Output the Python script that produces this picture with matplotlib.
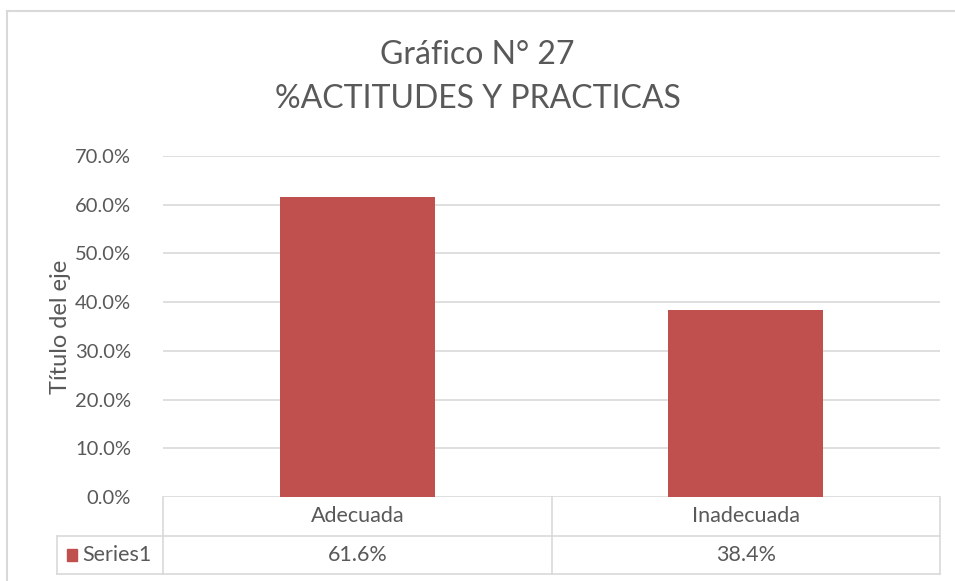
import matplotlib
matplotlib.use("Agg")
from matplotlib import pyplot as plt
from matplotlib.lines import Line2D
from matplotlib.patches import Rectangle

# datos del grafico
categorias = ["Adecuada", "Inadecuada"]
valores = [0.616, 0.384]
serie = "Series1"
titulo = "Gráfico N° 27\n%ACTITUDES Y PRACTICAS"
eje_y = "Título del eje"

W, H = 955, 581
gris = "#595959"
linea = "#d9d9d9"
rojo = "#C0504D"
plt.rcParams['font.family'] = ['Lato', 'DejaVu Sans']

fig = plt.figure(figsize=(W / 100, H / 100), dpi=100)

def fx(px):
    return px / W

def fy(py):
    return 1 - py / H

# borde del grafico
fig.add_artist(Line2D([fx(7), 1], [fy(11), fy(11)], color=linea, lw=1.5))
fig.add_artist(Line2D([fx(7), fx(7)], [fy(11), 0], color=linea, lw=1.5))

x0, x1, ytop, ybot = 163, 940, 156, 497
ax = fig.add_axes([fx(x0), fy(ybot), fx(x1 - x0), fy(ytop) - fy(ybot)])
pos = list(range(len(categorias)))
ax.bar(pos, valores, width=0.4, color=rojo, zorder=3)
ax.set_xlim(-0.5, len(categorias) - 0.5)
ax.set_ylim(0, 0.7)
ax.set_yticks([i / 10 for i in range(8)])
ax.set_yticklabels(["%.1f%%" % (i * 10) for i in range(8)], color=gris, fontsize=14.5)
ax.tick_params(axis="y", length=0, pad=23)
ax.set_xticks([])
ax.grid(axis="y", color=linea, lw=1.2, zorder=0)
for s in ax.spines.values():
    s.set_visible(False)
ax.set_ylabel(eje_y, color=gris, fontsize=17, va="center")
ax.yaxis.set_label_coords((60 - x0) / (x1 - x0), 0.5)

fig.text(0.5, fy(77), titulo, ha="center", va="center", fontsize=23,
         color=gris, linespacing=1.6)

# tabla de datos
ymid, yend, xleft = 536, 574, 57
ancho = (x1 - x0) / len(categorias)
for i in range(len(categorias) + 1):
    xv = x0 + i * ancho
    fig.add_artist(Line2D([fx(xv), fx(xv)], [fy(ybot), fy(yend)], color=linea, lw=1.2))
fig.add_artist(Line2D([fx(xleft), fx(xleft)], [fy(ymid), fy(yend)], color=linea, lw=1.2))
for yh in (ymid, yend):
    fig.add_artist(Line2D([fx(xleft), fx(x1)], [fy(yh), fy(yh)], color=linea, lw=1.2))

for i, (c, v) in enumerate(zip(categorias, valores)):
    xc = x0 + (i + 0.5) * ancho
    fig.text(fx(xc), fy((ybot + ymid) / 2), c, ha="center", va="center",
             fontsize=15.5, color=gris)
    fig.text(fx(xc), fy((ymid + yend) / 2), "%.1f%%" % (v * 100), ha="center",
             va="center", fontsize=15.5, color=gris)

fig.add_artist(Rectangle((fx(67), fy(561)), fx(10), fy(549) - fy(561), color=rojo))
fig.text(fx(82), fy((ymid + yend) / 2), serie, ha="left", va="center",
         fontsize=15.5, color=gris)

fig.savefig("out.png", dpi=100)
